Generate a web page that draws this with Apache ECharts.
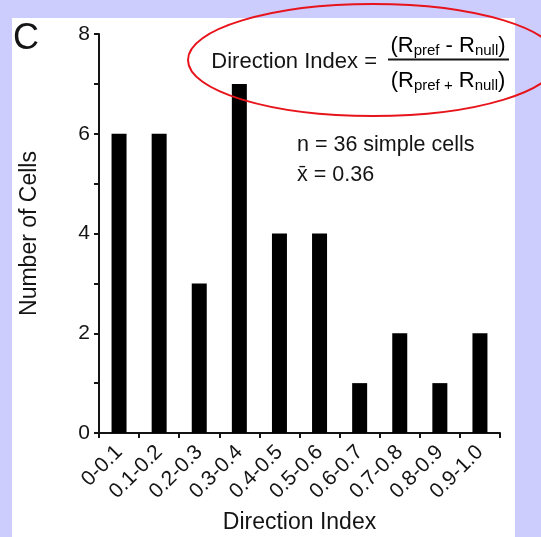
<!DOCTYPE html>
<html>
<head>
<meta charset="utf-8">
<script src="https://cdn.jsdelivr.net/npm/echarts@6/dist/echarts.min.js"></script>
<style>
  html, body { margin: 0; padding: 0; }
  #wrap { position: relative; width: 541px; height: 537px; background: #ccccfd; overflow: hidden; }
  #panel { position: absolute; left: 12px; top: 18px; width: 503px; height: 519px; background: #ffffff; }
  #chart { position: absolute; left: 0; top: 0; width: 541px; height: 537px; }
</style>
</head>
<body>
<div id="wrap">
  <div id="panel"></div>
  <div id="chart"></div>
</div>
<script>
// Histogram of direction index bins
const categories = ['0-0.1', '0.1-0.2', '0.2-0.3', '0.3-0.4', '0.4-0.5',
                    '0.5-0.6', '0.6-0.7', '0.7-0.8', '0.8-0.9', '0.9-1.0'];
const cellCounts = [6, 6, 3, 7, 4, 4, 1, 2, 1, 2];
const yTicks = [0, 2, 4, 6, 8];

const FONT = '"Liberation Sans", Arial, sans-serif';
const INK = '#141414';

const chart = echarts.init(document.getElementById('chart'), null, { renderer: 'canvas' });

const fracRich = {
  m: { fontFamily: FONT, fontSize: 22, color: INK, lineHeight: 26 },
  s: { fontFamily: FONT, fontSize: 15, color: INK, padding: [10, 0, 0, 0], lineHeight: 26 }
};

chart.setOption({
  backgroundColor: 'transparent',
  animation: false,
  grid: { left: 99, top: 34, width: 401, height: 399, containLabel: false, outerBoundsMode: 'none' },
  xAxis: {
    type: 'category',
    data: categories,
    name: 'Direction Index',
    nameLocation: 'middle',
    nameGap: 78,
    nameTextStyle: { fontFamily: FONT, fontSize: 23, color: INK },
    axisLine: { show: true, lineStyle: { color: INK, width: 2 } },
    axisTick: { show: true, alignWithLabel: false, length: 5, lineStyle: { color: INK, width: 2 } },
    axisLabel: { interval: 0, rotate: 45, fontFamily: FONT, fontSize: 21, color: INK, margin: 16 },
    splitLine: { show: false }
  },
  yAxis: {
    type: 'value',
    min: yTicks[0],
    max: yTicks[yTicks.length - 1],
    interval: yTicks[1] - yTicks[0],
    name: 'Number of Cells',
    nameLocation: 'middle',
    nameGap: 58,
    nameTextStyle: { fontFamily: FONT, fontSize: 23, color: INK },
    axisLine: { show: true, lineStyle: { color: INK, width: 2 } },
    axisTick: { show: true, length: 5, lineStyle: { color: INK, width: 2 } },
    minorTick: { show: true, splitNumber: 2, length: 5, lineStyle: { color: INK, width: 2 } },
    axisLabel: { fontFamily: FONT, fontSize: 21, color: INK, margin: 9 },
    splitLine: { show: false }
  },
  series: [{
    type: 'bar',
    data: cellCounts,
    barWidth: 15,
    itemStyle: { color: '#000000' }
  }],
  graphic: [
    {
      type: 'text', x: 13, y: 39,
      style: { text: 'C', font: '36px ' + FONT, fill: INK, verticalAlign: 'middle' }
    },
    {
      type: 'text', x: 377, y: 62,
      style: { text: 'Direction Index =', font: '22px ' + FONT, fill: INK,
               align: 'right', verticalAlign: 'middle' }
    },
    {
      type: 'text', x: 448, y: 46,
      style: {
        text: '{m|(R}{s|pref}{m| - R}{s|null}{m|)}',
        align: 'center', verticalAlign: 'middle', rich: fracRich
      }
    },
    {
      type: 'line',
      shape: { x1: 388, y1: 59.5, x2: 509, y2: 59.5 },
      style: { stroke: INK, lineWidth: 2 }
    },
    {
      type: 'text', x: 448, y: 81,
      style: {
        text: '{m|(R}{s|pref }{s|+}{m| R}{s|null}{m|)}',
        align: 'center', verticalAlign: 'middle', rich: fracRich
      }
    },
    {
      type: 'text', x: 297, y: 145,
      style: { text: 'n = 36 simple cells', font: '21.5px ' + FONT, fill: INK, verticalAlign: 'middle' }
    },
    {
      type: 'text', x: 297, y: 175,
      style: { text: 'x\u0304 = 0.36', font: '21.5px ' + FONT, fill: INK, verticalAlign: 'middle' }
    },
    {
      type: 'ellipse',
      shape: { cx: 373, cy: 60, rx: 185, ry: 56 },
      style: { fill: 'none', stroke: '#e8141b', lineWidth: 2 },
      z: 10
    }
  ]
});
</script>
</body>
</html>
